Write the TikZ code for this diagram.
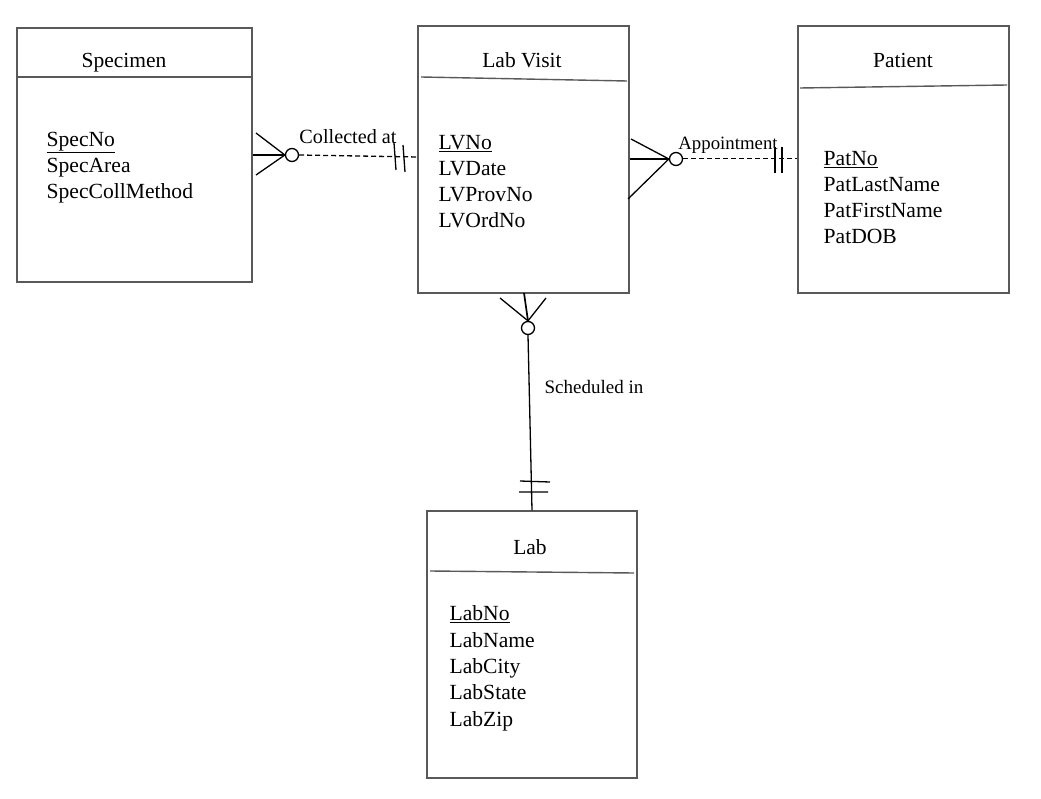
\documentclass[tikz,border=0pt]{standalone}
\usepackage{fontspec}
\setmainfont{Liberation Serif}
\usetikzlibrary{positioning}

\begin{document}
\begin{tikzpicture}[x=1pt,y=-1pt,line width=1.3pt,
    entity/.style={draw=black!65,line width=1.4pt,rectangle,inner sep=0pt},
    title/.style={anchor=base,inner sep=0pt,font=\fontsize{21.5}{26}\selectfont},
    attr/.style={anchor=base west,align=left,inner sep=0pt,font=\fontsize{21.6}{26.3}\selectfont},
    rel/.style={anchor=base,inner sep=0pt,font=\fontsize{#1}{22}\selectfont},
    ring/.style={circle,draw,fill=white,inner sep=0pt,minimum size=13pt},
    link/.style={dash pattern=on 5pt off 3pt}]

\useasboundingbox[fill=white] (0,0) rectangle (1041,799);

% entities
\node[entity,minimum width=235pt,minimum height=254pt] (specimen) at (134.5,155)   {};
\node[entity,minimum width=211pt,minimum height=267pt] (labvisit) at (523.5,159.5) {};
\node[entity,minimum width=211pt,minimum height=267pt] (patient)  at (903.5,159.5) {};
\node[entity,minimum width=210pt,minimum height=267pt] (lab)      at (532,644.5)   {};

\draw[black!65,line width=1.4pt] (specimen.west |- 0,77) -- (specimen.east |- 0,77);
\draw[black!65,line width=1.4pt] (421,77) -- (627,81);
\draw[black!65,line width=1.4pt] (800,88) -- (1007,85);
\draw[black!65,line width=1.4pt] (430,571) -- (634,573);

\node[title] (specimen title) at (124,68)  {Specimen};
\node[title] (labvisit title) at (522,68)  {Lab Visit};
\node[title] (patient title)  at (903,68)  {Patient};
\node[title] (lab title)      at (530,554) {Lab};

% anchored at the baseline of the last line
\node[attr] (specimen attrs) at (46,199)  {\underline{SpecNo}\\SpecArea\\SpecCollMethod};
\node[attr] (labvisit attrs) at (438,228) {\underline{LVNo}\\LVDate\\LVProvNo\\LVOrdNo};
\node[attr] (patient attrs)  at (823,244) {\underline{PatNo}\\PatLastName\\PatFirstName\\PatDOB};
\node[attr] (lab attrs)      at (449,726) {\underline{LabNo}\\LabName\\LabCity\\LabState\\LabZip};

% Specimen -- Lab Visit
\node[ring] (r1) at (292,155) {};
\draw[line width=1.9pt] (specimen.east |- r1) -- (r1.west);
\draw (256,133) -- (r1.west) -- (256,175);
\draw[link] (r1.east) -- (labvisit.west |- 0,157);
\draw (394,143) -- (396,170) (403,145) -- (405,172);
\node[rel=20.2] (collected) at (348,144) {Collected at};

% Lab Visit -- Patient
\node[ring] (r2) at (676,159) {};
\draw (631,139) -- (r2.west) -- (628,199);
\draw (labvisit.east |- r2) -- (r2.west);
\draw[link,line width=1pt] (r2.east) -- (patient.west |- r2);
\draw (775,147) -- (775,173) (782,147) -- (782,173);
\node[rel=18.8] (appointment) at (728,150) {Appointment};

% Lab Visit -- Lab
\node[ring] (r3) at (528,328) {};
\draw (500,298) -- (r3.north) -- (546,298);
\draw[line width=1.7pt] (524,293) -- (r3.north);
\draw (r3.south) -- (lab.north);
\draw (520,481) -- (550,482) (519,492) -- (548,492);
\node[rel=19] (scheduled) at (594,393) {Scheduled in};

\end{tikzpicture}
\end{document}
